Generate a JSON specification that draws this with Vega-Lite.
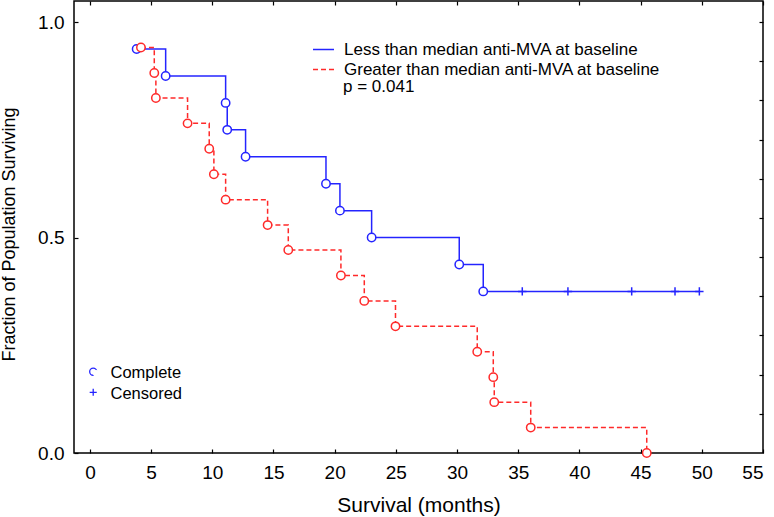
{
  "$schema": "https://vega.github.io/schema/vega-lite/v6.json",
  "description": "Kaplan-Meier survival by baseline anti-MVA",
  "width": 689,
  "height": 452,
  "autosize": {"type": "none"},
  "padding": {"left": 74, "top": 1, "right": 11, "bottom": 64},
  "background": "white",
  "config": {
    "font": "Liberation Sans",
    "view": {"stroke": "black", "strokeWidth": 1.5},
    "axis": {
      "labelColor": "black",
      "titleColor": "black",
      "tickColor": "black",
      "titleFontWeight": "normal",
      "grid": false,
      "domain": false,
      "tickSize": -4,
      "tickWidth": 1.2
    },
    "legend": {"labelColor": "black", "labelLimit": 0}
  },
  "datasets": {
    "km": [
      {"group": "Less than median anti-MVA at baseline", "months": 3.82, "surv": 0.9375, "status": "Complete"},
      {"group": "Less than median anti-MVA at baseline", "months": 6.19, "surv": 0.875, "status": "Complete"},
      {"group": "Less than median anti-MVA at baseline", "months": 11.09, "surv": 0.8125, "status": "Complete"},
      {"group": "Less than median anti-MVA at baseline", "months": 11.22, "surv": 0.75, "status": "Complete"},
      {"group": "Less than median anti-MVA at baseline", "months": 12.72, "surv": 0.6875, "status": "Complete"},
      {"group": "Less than median anti-MVA at baseline", "months": 19.29, "surv": 0.625, "status": "Complete"},
      {"group": "Less than median anti-MVA at baseline", "months": 20.43, "surv": 0.5625, "status": "Complete"},
      {"group": "Less than median anti-MVA at baseline", "months": 23.02, "surv": 0.5, "status": "Complete"},
      {"group": "Less than median anti-MVA at baseline", "months": 30.18, "surv": 0.4375, "status": "Complete"},
      {"group": "Less than median anti-MVA at baseline", "months": 32.14, "surv": 0.375, "status": "Complete"},
      {"group": "Less than median anti-MVA at baseline", "months": 35.33, "surv": 0.375, "status": "Censored"},
      {"group": "Less than median anti-MVA at baseline", "months": 39.06, "surv": 0.375, "status": "Censored"},
      {"group": "Less than median anti-MVA at baseline", "months": 44.27, "surv": 0.375, "status": "Censored"},
      {"group": "Less than median anti-MVA at baseline", "months": 47.81, "surv": 0.375, "status": "Censored"},
      {"group": "Less than median anti-MVA at baseline", "months": 49.8, "surv": 0.375, "status": "Censored"},
      {"group": "Greater than median anti-MVA at baseline", "months": 4.17, "surv": 0.941, "status": "Complete"},
      {"group": "Greater than median anti-MVA at baseline", "months": 5.26, "surv": 0.882, "status": "Complete"},
      {"group": "Greater than median anti-MVA at baseline", "months": 5.39, "surv": 0.824, "status": "Complete"},
      {"group": "Greater than median anti-MVA at baseline", "months": 7.98, "surv": 0.765, "status": "Complete"},
      {"group": "Greater than median anti-MVA at baseline", "months": 9.75, "surv": 0.706, "status": "Complete"},
      {"group": "Greater than median anti-MVA at baseline", "months": 10.13, "surv": 0.647, "status": "Complete"},
      {"group": "Greater than median anti-MVA at baseline", "months": 11.09, "surv": 0.588, "status": "Complete"},
      {"group": "Greater than median anti-MVA at baseline", "months": 14.52, "surv": 0.529, "status": "Complete"},
      {"group": "Greater than median anti-MVA at baseline", "months": 16.21, "surv": 0.471, "status": "Complete"},
      {"group": "Greater than median anti-MVA at baseline", "months": 20.51, "surv": 0.412, "status": "Complete"},
      {"group": "Greater than median anti-MVA at baseline", "months": 22.42, "surv": 0.353, "status": "Complete"},
      {"group": "Greater than median anti-MVA at baseline", "months": 24.97, "surv": 0.294, "status": "Complete"},
      {"group": "Greater than median anti-MVA at baseline", "months": 31.65, "surv": 0.235, "status": "Complete"},
      {"group": "Greater than median anti-MVA at baseline", "months": 32.96, "surv": 0.176, "status": "Complete"},
      {"group": "Greater than median anti-MVA at baseline", "months": 33.04, "surv": 0.118, "status": "Complete"},
      {"group": "Greater than median anti-MVA at baseline", "months": 36.02, "surv": 0.059, "status": "Complete"},
      {"group": "Greater than median anti-MVA at baseline", "months": 45.5, "surv": 0.0, "status": "Complete"}
    ],
    "note": [
      {"label": "p = 0.041"}
    ],
    "keys": [
      {"status": "Complete"},
      {"status": "Censored"}
    ]
  },
  "data": {"name": "km"},
  "layer": [
    {
      "mark": {"type": "line", "interpolate": "step-after", "strokeWidth": 1.5},
      "encoding": {
        "x": {
          "field": "months",
          "type": "quantitative",
          "scale": {"domain": [-1.3, 55], "nice": false, "zero": false},
          "axis": {
            "orient": "bottom",
            "values": [0, 5, 10, 15, 20, 25, 30, 35, 40, 45, 50, 55],
            "labelFontSize": 19,
            "labelPadding": 14,
            "title": "Survival (months)",
            "titleFontSize": 21,
            "titleBaseline": "top",
            "titleY": 41
          }
        },
        "y": {
          "field": "surv",
          "type": "quantitative",
          "scale": {"domain": [0, 1.049], "nice": false},
          "axis": {
            "orient": "left",
            "values": [0, 0.5, 1],
            "format": ".1f",
            "labelFontSize": 19,
            "labelPadding": 14,
            "title": "Fraction of Population Surviving",
            "titleFontSize": 18,
            "titleX": -56,
            "titleY": 233
          }
        },
        "color": {
          "field": "group",
          "type": "nominal",
          "scale": {
            "domain": ["Less than median anti-MVA at baseline", "Greater than median anti-MVA at baseline"],
            "range": ["#2424ff", "#ff2a2a"]
          },
          "legend": {
            "orient": "none",
            "legendX": 238,
            "legendY": 37,
            "padding": 0,
            "title": null,
            "symbolType": "stroke",
            "symbolSize": 441,
            "symbolStrokeWidth": 1.5,
            "labelFontSize": 17,
            "labelOffset": 9,
            "rowPadding": -1
          }
        },
        "strokeDash": {
          "field": "group",
          "type": "nominal",
          "scale": {
            "domain": ["Less than median anti-MVA at baseline", "Greater than median anti-MVA at baseline"],
            "range": [[1, 0], [5, 3]]
          }
        }
      }
    },
    {
      "mark": {"type": "point", "size": 70, "strokeWidth": 1.5, "fill": "white", "fillOpacity": 1},
      "encoding": {
        "x": {"field": "months", "type": "quantitative", "axis": null},
        "y": {"field": "surv", "type": "quantitative", "axis": null},
        "stroke": {
          "field": "group",
          "type": "nominal",
          "scale": {
            "domain": ["Less than median anti-MVA at baseline", "Greater than median anti-MVA at baseline"],
            "range": ["#2424ff", "#ff2a2a"]
          },
          "legend": null
        },
        "shape": {
          "field": "status",
          "type": "nominal",
          "scale": {"domain": ["Complete", "Censored"], "range": ["circle", "M0,-1L0,1M-1,0L1,0"]},
          "legend": {
            "orient": "none",
            "legendX": 14,
            "legendY": 364,
            "padding": 0,
            "title": null,
            "symbolSize": 45,
            "symbolStrokeColor": "#2424ff",
            "symbolFillColor": "transparent",
            "symbolStrokeWidth": 1.5,
            "labelFontSize": 16.5,
            "labelOffset": 6,
            "rowPadding": 4
          }
        }
      }
    },
    {
      "data": {"name": "keys"},
      "mark": {"type": "point", "size": 50, "strokeWidth": 1.3, "fill": "white", "fillOpacity": 1, "stroke": "#2424ff"},
      "encoding": {
        "x": {"datum": 0.27, "type": "quantitative", "axis": null},
        "y": {"datum": 0.1886, "type": "quantitative", "axis": null},
        "yOffset": {
          "field": "status",
          "type": "nominal",
          "scale": {"type": "point", "domain": ["Complete", "Censored"], "range": [0, 20.6], "padding": 0}
        },
        "shape": {"field": "status", "type": "nominal"}
      }
    },
    {
      "data": {"name": "note"},
      "mark": {"type": "text", "align": "left", "baseline": "middle", "fontSize": 17, "color": "black"},
      "encoding": {
        "x": {"datum": 20.68, "type": "quantitative", "axis": null},
        "y": {"datum": 0.849, "type": "quantitative", "axis": null},
        "text": {"field": "label"}
      }
    },
    {
      "mark": {"type": "point", "size": 0, "strokeWidth": 0},
      "encoding": {
        "x": {
          "field": "months",
          "type": "quantitative",
          "axis": {"orient": "top", "values": [0, 5, 10, 15, 20, 25, 30, 35, 40, 45, 50, 55], "labels": false, "title": null}
        },
        "y": {
          "field": "surv",
          "type": "quantitative",
          "axis": {
            "orient": "right",
            "values": [0.0909, 0.1818, 0.2727, 0.3636, 0.4545, 0.5455, 0.6364, 0.7273, 0.8182, 0.9091, 1.0],
            "labels": false,
            "title": null
          }
        }
      }
    }
  ],
  "resolve": {"axis": {"x": "independent", "y": "independent"}}
}
